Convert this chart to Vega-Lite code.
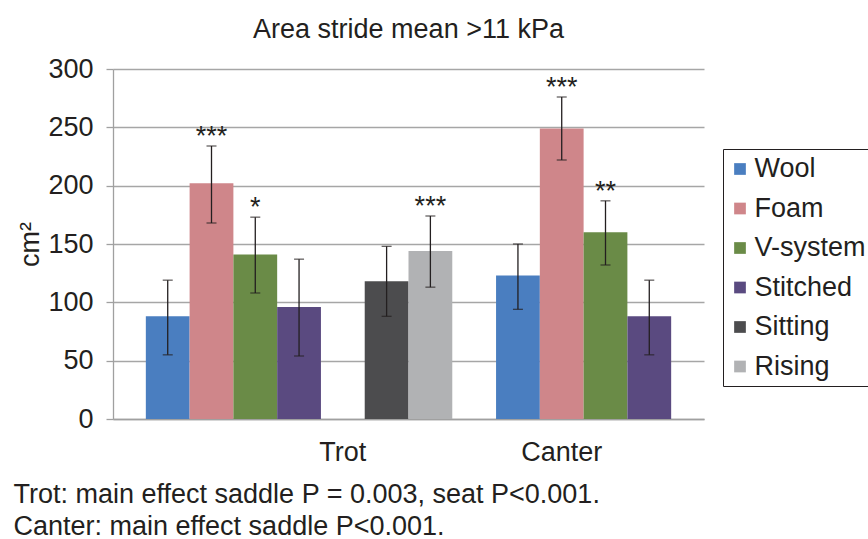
{
  "$schema": "https://vega.github.io/schema/vega-lite/v6.json",
  "width": 591,
  "height": 350,
  "autosize": {"type": "none"},
  "padding": {"left": 113, "top": 69, "right": 164, "bottom": 120},
  "background": "white",
  "config": {
    "font": "Liberation Sans",
    "view": {"stroke": null}
  },
  "title": {
    "text": "Area stride mean >11 kPa",
    "fontSize": 27,
    "fontWeight": "normal",
    "color": "#231f20",
    "anchor": "middle",
    "frame": "group",
    "baseline": "alphabetic",
    "offset": -10
  },
  "data": {
    "values": [
      {"gait": "Trot", "saddle": "Wool", "value": 88, "lo": 55, "hi": 119, "sig": ""},
      {"gait": "Trot", "saddle": "Foam", "value": 202, "lo": 168, "hi": 234, "sig": "***"},
      {"gait": "Trot", "saddle": "V-system", "value": 141, "lo": 108, "hi": 173, "sig": "*"},
      {"gait": "Trot", "saddle": "Stitched", "value": 96, "lo": 54, "hi": 137, "sig": ""},
      {"gait": "Trot", "saddle": "Sitting", "value": 118, "lo": 88, "hi": 148, "sig": ""},
      {"gait": "Trot", "saddle": "Rising", "value": 144, "lo": 113, "hi": 174, "sig": "***"},
      {"gait": "Canter", "saddle": "Wool", "value": 123, "lo": 94, "hi": 150, "sig": ""},
      {"gait": "Canter", "saddle": "Foam", "value": 249, "lo": 222, "hi": 276, "sig": "***"},
      {"gait": "Canter", "saddle": "V-system", "value": 160, "lo": 132, "hi": 187, "sig": "**"},
      {"gait": "Canter", "saddle": "Stitched", "value": 88, "lo": 55, "hi": 119, "sig": ""}
    ]
  },
  "transform": [{"calculate": "datum.gait + ' ' + datum.saddle", "as": "bar"}],
  "encoding": {
    "x": {
      "field": "bar",
      "type": "nominal",
      "sort": null,
      "scale": {
        "domain": ["Trot Wool", "Trot Foam", "Trot V-system", "Trot Stitched", "Trot", "Trot Sitting", "Trot Rising", "gap", "Canter Wool", "Canter Foam", "Canter V-system", "Canter Stitched"],
        "paddingInner": 0,
        "paddingOuter": 0.75
      },
      "axis": {
        "labelExpr": "datum.value == 'Trot' ? 'Trot' : (datum.value == 'Canter Foam' ? 'Canter' : '')",
        "labelAngle": 0,
        "labelFontSize": 27,
        "labelColor": "#231f20",
        "labelPadding": 20,
        "ticks": false,
        "domainColor": "#a0a0a0",
        "domainWidth": 1.3,
        "title": ["Trot: main effect saddle P = 0.003, seat P<0.001.", "Canter: main effect saddle P<0.001."],
        "titleFontSize": 27,
        "titleFontWeight": "normal",
        "titleColor": "#231f20",
        "titleAlign": "left",
        "titleBaseline": "alphabetic",
        "titleLineHeight": 32,
        "titleX": -100,
        "titleY": 83
      }
    }
  },
  "layer": [
    {
      "mark": {"type": "bar"},
      "encoding": {
        "y": {
          "field": "value",
          "type": "quantitative",
          "scale": {"domain": [0, 300], "nice": false},
          "axis": {
            "values": [0, 50, 100, 150, 200, 250, 300],
            "grid": true,
            "gridColor": "#a6a6a6",
            "gridWidth": 1.3,
            "tickSize": 7,
            "tickColor": "#a0a0a0",
            "tickWidth": 1.3,
            "domainColor": "#a0a0a0",
            "domainWidth": 1.3,
            "labelFontSize": 27,
            "labelPadding": 13,
            "labelColor": "#231f20",
            "title": "cm²",
            "titleFontSize": 27,
            "titleFontWeight": "normal",
            "titleColor": "#231f20",
            "titleBaseline": "alphabetic",
            "titleAlign": "center",
            "titleX": -75,
            "titleY": 175
          }
        },
        "color": {
          "field": "saddle",
          "type": "nominal",
          "scale": {
            "domain": ["Wool", "Foam", "V-system", "Stitched", "Sitting", "Rising"],
            "range": ["#4a7ec0", "#cf868a", "#6a8b47", "#5a4a80", "#4c4c4e", "#b1b2b4"]
          },
          "legend": {
            "orient": "none",
            "legendX": 610,
            "legendY": 80,
            "title": null,
            "symbolType": "square",
            "symbolSize": 137,
            "symbolStrokeWidth": 0,
            "symbolOpacity": 1,
            "labelFontSize": 27,
            "labelOffset": 1,
            "labelColor": "#231f20",
            "labelLimit": 300,
            "padding": 6.5,
            "symbolOffset": -3,
            "rowPadding": 11.5,
            "strokeColor": "#231f20",
            "fillColor": "white"
          }
        }
      }
    },
    {
      "mark": {"type": "rule", "color": "#231f20", "strokeWidth": 1.3},
      "encoding": {
        "y": {"field": "lo", "type": "quantitative"},
        "y2": {"field": "hi"}
      }
    },
    {
      "mark": {"type": "tick", "color": "#231f20", "thickness": 1.3, "size": 10},
      "encoding": {"y": {"field": "lo", "type": "quantitative"}}
    },
    {
      "mark": {"type": "tick", "color": "#231f20", "thickness": 1.3, "size": 10},
      "encoding": {"y": {"field": "hi", "type": "quantitative"}}
    },
    {
      "transform": [{"filter": "datum.sig != ''"}],
      "mark": {"type": "text", "fontSize": 27, "baseline": "alphabetic", "dy": -1, "color": "#231f20"},
      "encoding": {
        "y": {"field": "hi", "type": "quantitative"},
        "text": {"field": "sig"}
      }
    }
  ]
}
